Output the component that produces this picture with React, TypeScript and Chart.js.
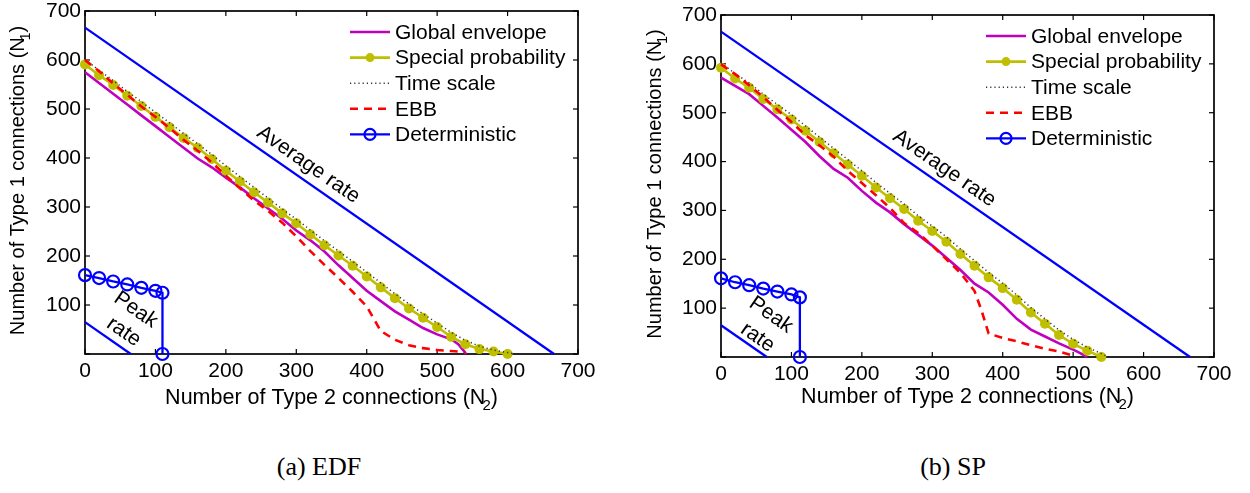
import React, { useEffect, useRef } from "react";
import { Chart, registerables } from "chart.js";
Chart.register(...registerables);

const FONT = "'Liberation Sans', Arial, Helvetica, sans-serif";
const SERIF = "'Liberation Serif', 'Times New Roman', Times, serif";

// ---------- axis ticks ----------
const xTickValues = [0, 100, 200, 300, 400, 500, 600, 700];
const yTickValues = [0, 100, 200, 300, 400, 500, 600, 700];

// ---------- panel (a) EDF ----------
const edfEnvelopeX = [0, 20, 40, 60, 80, 100, 120, 140, 160, 180, 200, 220, 240, 260, 280, 300, 320, 340, 360, 380, 400, 420, 440, 460, 480, 500, 520, 530, 537, 541];
const edfEnvelopeY = [575, 553, 531, 509, 487, 465, 443, 421, 399, 381, 360, 340, 318, 297, 276, 252, 232, 209, 181, 155, 129, 108, 87, 70, 53, 40, 30, 20, 8, 0];

const edfSpecialX = [0, 20, 40, 60, 80, 100, 120, 140, 160, 180, 200, 220, 240, 260, 280, 300, 320, 340, 360, 380, 400, 420, 440, 460, 480, 500, 520, 540, 560, 580, 600];
const edfSpecialY = [591, 569, 549, 527, 506, 484, 463, 441, 421, 398, 374, 352, 330, 309, 287, 267, 244, 222, 201, 180, 158, 136, 114, 93, 74, 55, 35, 20, 10, 5, 0];

const edfTimeX = [0, 20, 40, 60, 80, 100, 120, 140, 160, 180, 200, 220, 240, 260, 280, 300, 320, 340, 360, 380, 400, 420, 440, 460, 480, 500, 520, 540, 560, 580, 600, 610];
const edfTimeY = [601, 579, 558, 536, 515, 493, 472, 450, 429, 407, 384, 362, 340, 318, 296, 275, 253, 231, 210, 189, 167, 145, 123, 102, 82, 63, 44, 28, 16, 8, 3, 0];

const edfEbbX = [0, 20, 40, 60, 80, 100, 120, 140, 160, 180, 200, 220, 240, 260, 280, 300, 320, 340, 360, 380, 400, 410, 420, 440, 460, 480, 500, 520, 540];
const edfEbbY = [600, 577, 552, 529, 505, 484, 461, 437, 415, 391, 364, 338, 313, 292, 268, 240, 210, 182, 155, 127, 97, 72, 47, 29, 18, 12, 8, 6, 4];

const edfDetX = [0, 20, 40, 60, 80, 100, 110, 110];
const edfDetY = [161, 155, 148, 142, 135, 129, 125, 0];

const edfAverageX = [0, 666];
const edfAverageY = [666, 0];
const edfPeakX = [0, 65];
const edfPeakY = [65, 0];

// ---------- panel (b) SP ----------
const spEnvelopeX = [0, 20, 40, 60, 80, 100, 120, 140, 160, 180, 200, 220, 240, 260, 280, 300, 320, 340, 360, 380, 400, 420, 440, 460, 480, 500, 510, 520];
const spEnvelopeY = [572, 555, 538, 514, 490, 465, 440, 411, 385, 367, 340, 316, 296, 272, 250, 228, 203, 178, 150, 132, 107, 78, 56, 42, 28, 15, 8, 0];

const spSpecialX = [0, 20, 40, 60, 80, 100, 120, 140, 160, 180, 200, 220, 240, 260, 280, 300, 320, 340, 360, 380, 400, 420, 440, 460, 480, 500, 520, 540];
const spSpecialY = [592, 570, 551, 528, 507, 486, 463, 440, 417, 394, 371, 347, 325, 303, 279, 258, 236, 211, 187, 163, 141, 117, 91, 68, 45, 27, 13, 0];

const spTimeX = [0, 20, 40, 60, 80, 100, 120, 140, 160, 180, 200, 220, 240, 260, 280, 300, 320, 340, 360, 380, 400, 420, 440, 460, 480, 500, 520, 540, 550];
const spTimeY = [602, 580, 561, 538, 517, 496, 473, 450, 427, 404, 381, 357, 335, 313, 289, 268, 246, 221, 197, 173, 151, 127, 101, 78, 55, 36, 20, 7, 0];

const spEbbX = [0, 20, 40, 60, 80, 100, 120, 140, 160, 180, 200, 220, 240, 260, 280, 300, 320, 340, 360, 370, 380, 400, 420, 440, 460, 480, 500];
const spEbbY = [599, 579, 556, 532, 506, 481, 454, 433, 410, 381, 356, 331, 305, 274, 254, 228, 200, 172, 135, 95, 48, 39, 32, 24, 17, 11, 3];

const spDetX = [0, 20, 40, 60, 80, 100, 112, 112];
const spDetY = [161, 153, 147, 140, 134, 128, 122, 0];

const spAverageX = [0, 666];
const spAverageY = [666, 0];
const spPeakX = [0, 65];
const spPeakY = [65, 0];

// ---------- labels ----------
const seriesLabels = ["Global envelope", "Special probability", "Time scale", "EBB", "Deterministic"];
const captionA = "(a) EDF";
const captionB = "(b) SP";

const pts = (xs: number[], ys: number[]) => xs.map((x, i) => ({ x, y: ys[i] }));

const MAGENTA = "#bf00bf";
const OLIVE = "#bfbf00";
const RED = "#ff0000";
const BLUE = "#0000ff";
const DOT = "#333333";

function buildDatasets(d: any) {
  return [
    { label: seriesLabels[0], data: pts(d.envX, d.envY), borderColor: MAGENTA, borderWidth: 2.6, pointRadius: 0, order: 4, legend: { marker: null } },
    { label: seriesLabels[1], data: pts(d.spX, d.spY), borderColor: OLIVE, backgroundColor: OLIVE, borderWidth: 2.6, pointRadius: 5, pointBackgroundColor: OLIVE, pointBorderColor: OLIVE, pointBorderWidth: 0, order: 3, legend: { marker: "dot" } },
    { label: seriesLabels[2], data: pts(d.tsX, d.tsY), borderColor: DOT, borderWidth: 1.5, borderDash: [1.2, 3], pointRadius: 0, order: 2, legend: { marker: null } },
    { label: seriesLabels[3], data: pts(d.ebbX, d.ebbY), borderColor: RED, borderWidth: 2.6, borderDash: [8, 6], pointRadius: 0, order: 0, legend: { marker: null } },
    { label: seriesLabels[4], data: pts(d.detX, d.detY), borderColor: BLUE, borderWidth: 2.3, pointRadius: 6, pointBackgroundColor: "rgba(0,0,0,0)", pointBorderColor: BLUE, pointBorderWidth: 2.2, order: 1, legend: { marker: "circle" } },
    { label: "Average rate", data: pts(d.avgX, d.avgY), borderColor: BLUE, borderWidth: 2.3, pointRadius: 0, order: 5 },
    { label: "Peak rate", data: pts(d.peakX, d.peakY), borderColor: BLUE, borderWidth: 2.3, pointRadius: 0, order: 5 },
  ].map((ds: any) => ({ ...ds, fill: false, tension: 0, clip: false, showLine: true }));
}

function line(ctx: CanvasRenderingContext2D, x1: number, y1: number, x2: number, y2: number) {
  ctx.beginPath();
  ctx.moveTo(x1, y1);
  ctx.lineTo(x2, y2);
  ctx.stroke();
}

function drawSubText(ctx: CanvasRenderingContext2D, main: string, sub: string, tail: string, cx: number, cy: number, rotate: boolean, size: number) {
  ctx.save();
  ctx.translate(cx, cy);
  if (rotate) ctx.rotate(-Math.PI / 2);
  ctx.fillStyle = "#000";
  ctx.textBaseline = "middle";
  ctx.textAlign = "left";
  const subSize = Math.round(size * 0.72);
  ctx.font = `${size}px ${FONT}`;
  const w1 = ctx.measureText(main).width;
  const w3 = ctx.measureText(tail).width;
  ctx.font = `${subSize}px ${FONT}`;
  const w2 = ctx.measureText(sub).width;
  const total = w1 + w2 + w3 - 3;
  let x = -total / 2;
  ctx.font = `${size}px ${FONT}`;
  ctx.fillText(main, x, 0);
  x += w1 - 3;
  ctx.font = `${subSize}px ${FONT}`;
  ctx.fillText(sub, x, 8);
  x += w2;
  ctx.font = `${size}px ${FONT}`;
  ctx.fillText(tail, x, 0);
  ctx.restore();
}

const decorPlugin = {
  id: "panelDecor",
  beforeDatasetsDraw(chart: any) {
    const { ctx, chartArea: a, scales } = chart;
    ctx.save();
    ctx.strokeStyle = "#000";
    ctx.lineWidth = 1.2;
    const TL = 5;
    for (const v of xTickValues) {
      const px = scales.x.getPixelForValue(v);
      line(ctx, px, a.bottom, px, a.bottom - TL);
      line(ctx, px, a.top, px, a.top + TL);
    }
    for (const v of yTickValues) {
      const py = scales.y.getPixelForValue(v);
      line(ctx, a.left, py, a.left + TL, py);
      line(ctx, a.right, py, a.right - TL, py);
    }
    ctx.lineWidth = 1.7;
    ctx.strokeRect(a.left, a.top, a.right - a.left, a.bottom - a.top);
    ctx.restore();
  },
  afterDraw(chart: any, _args: any, opts: any) {
    const { ctx, chartArea: a, scales } = chart;
    const sx = scales.x, sy = scales.y;
    ctx.save();
    // legend
    const items = chart.data.datasets.filter((d: any) => d.legend);
    items.forEach((d: any, i: number) => {
      const y = a.top + 21 + i * 25.6;
      const x0 = a.right - 228;
      const x1 = x0 + 40;
      ctx.save();
      ctx.strokeStyle = d.borderColor;
      ctx.lineWidth = d.borderWidth;
      ctx.setLineDash(d.borderDash || []);
      line(ctx, x0, y, x1, y);
      ctx.setLineDash([]);
      if (d.legend.marker === "dot") {
        ctx.fillStyle = d.borderColor;
        ctx.beginPath();
        ctx.arc((x0 + x1) / 2, y, 4.5, 0, Math.PI * 2);
        ctx.fill();
      } else if (d.legend.marker === "circle") {
        ctx.lineWidth = 2.2;
        ctx.beginPath();
        ctx.arc((x0 + x1) / 2, y, 5.5, 0, Math.PI * 2);
        ctx.stroke();
      }
      ctx.fillStyle = "#000";
      ctx.font = `21px ${FONT}`;
      ctx.textAlign = "left";
      ctx.textBaseline = "middle";
      ctx.fillText(d.label, a.right - 183, y + 1);
      ctx.restore();
    });

    // annotations
    const ang = Math.atan2(sy.getPixelForValue(0) - sy.getPixelForValue(666), sx.getPixelForValue(666) - sx.getPixelForValue(0));
    const upX = Math.sin(ang), upY = -Math.cos(ang);
    ctx.fillStyle = "#000";
    ctx.font = `21px ${FONT}`;
    ctx.textAlign = "center";
    ctx.textBaseline = "middle";
    const ax = 305;
    const px = sx.getPixelForValue(ax) + upX * 15;
    const py = sy.getPixelForValue(666 - ax) + upY * 15;
    ctx.save();
    ctx.translate(px, py);
    ctx.rotate(ang);
    ctx.fillText("Average rate", 0, 0);
    ctx.restore();
    for (const [txt, dx, dy] of opts.peakLabels) {
      ctx.save();
      ctx.translate(sx.getPixelForValue(dx), sy.getPixelForValue(dy));
      ctx.rotate(ang);
      ctx.fillText(txt, 0, 0);
      ctx.restore();
    }

    // axis titles
    drawSubText(ctx, "Number of Type 2 connections (N", "2", ")", (a.left + a.right) / 2, a.bottom + opts.xTitleGap, false, 21.5);
    drawSubText(ctx, "Number of Type 1 connections (N", "1", ")", a.left - opts.yTitleGap, (a.top + a.bottom) / 2 - 2, true, 20);
    ctx.restore();
  },
};

function Panel({ data, geom }: { data: any; geom: any }) {
  const ref = useRef<HTMLCanvasElement>(null);
  useEffect(() => {
    if (!ref.current) return;
    const chart = new Chart(ref.current, {
      type: "line",
      data: { datasets: buildDatasets(data) as any },
      plugins: [decorPlugin as any],
      options: {
        animation: false,
        responsive: false,
        maintainAspectRatio: false,
        layout: { padding: { top: geom.top, right: geom.right, left: 0, bottom: 0 } },
        plugins: {
          legend: { display: false },
          tooltip: { enabled: false },
          panelDecor: { peakLabels: geom.peakLabels, xTitleGap: geom.xTitleGap, yTitleGap: geom.yTitleGap },
        } as any,
        scales: {
          x: {
            type: "linear",
            min: 0,
            max: 700,
            grid: { display: false, drawTicks: false },
            border: { display: false },
            afterBuildTicks: (s: any) => { s.ticks = xTickValues.map((v) => ({ value: v })); },
            ticks: { color: "#000", font: { family: FONT, size: 21, lineHeight: 1 }, padding: 7, maxRotation: 0, autoSkip: false },
            afterFit: (s: any) => { s.height = geom.xAxisH; s.paddingLeft = 0; s.paddingRight = 0; },
          },
          y: {
            type: "linear",
            min: 0,
            max: 700,
            grid: { display: false, drawTicks: false },
            border: { display: false },
            afterBuildTicks: (s: any) => { s.ticks = yTickValues.map((v) => ({ value: v })); },
            ticks: { color: "#000", font: { family: FONT, size: 21, lineHeight: 1 }, padding: 4, autoSkip: false, callback: (v: any) => (v === 0 ? "" : String(v)) },
            afterFit: (s: any) => { s.width = geom.yAxisW; s.paddingTop = 0; s.paddingBottom = 0; },
          },
        },
      },
    });
    return () => chart.destroy();
  }, []);
  return (
    <canvas ref={ref} width={geom.w} height={440} style={{ position: "absolute", left: geom.left, top: 0, width: geom.w, height: 440 }} />
  );
}

const dataA = { envX: edfEnvelopeX, envY: edfEnvelopeY, spX: edfSpecialX, spY: edfSpecialY, tsX: edfTimeX, tsY: edfTimeY, ebbX: edfEbbX, ebbY: edfEbbY, detX: edfDetX, detY: edfDetY, avgX: edfAverageX, avgY: edfAverageY, peakX: edfPeakX, peakY: edfPeakY };
const dataB = { envX: spEnvelopeX, envY: spEnvelopeY, spX: spSpecialX, spY: spSpecialY, tsX: spTimeX, tsY: spTimeY, ebbX: spEbbX, ebbY: spEbbY, detX: spDetX, detY: spDetY, avgX: spAverageX, avgY: spAverageY, peakX: spPeakX, peakY: spPeakY };

const geomA = { left: 0, w: 620, top: 11, right: 42, yAxisW: 85, xAxisH: 86, xTitleGap: 44, yTitleGap: 67, peakLabels: [["Peak", 72, 90], ["rate", 55, 45]] };
const geomB = { left: 625, w: 625, top: 15, right: 36, yAxisW: 96, xAxisH: 83, xTitleGap: 40, yTitleGap: 66, peakLabels: [["Peak", 71, 86], ["rate", 52, 40]] };

export default function App() {
  return (
    <div style={{ position: "absolute", left: 0, top: 0, width: 1250, height: 493, background: "#fff" }}>
      <Panel data={dataA} geom={geomA} />
      <Panel data={dataB} geom={geomB} />
      <div style={{ position: "absolute", left: 219, width: 200, top: 454, textAlign: "center", fontFamily: SERIF, fontSize: 26, lineHeight: "26px" }}>{captionA}</div>
      <div style={{ position: "absolute", left: 853, width: 200, top: 454, textAlign: "center", fontFamily: SERIF, fontSize: 26, lineHeight: "26px" }}>{captionB}</div>
    </div>
  );
}
